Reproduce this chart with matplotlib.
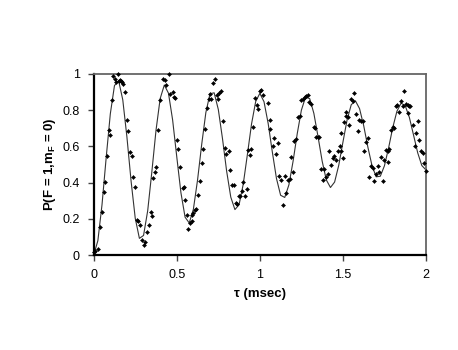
import matplotlib
matplotlib.use("Agg")
import matplotlib.pyplot as plt

plt.rcParams['font.family'] = ['Liberation Sans', 'DejaVu Sans']
plt.rcParams['mathtext.default'] = 'regular'

# Measured data points (tau in ms, population)
tau_data = [0.002, 0.010, 0.028, 0.038, 0.048, 0.060, 0.066, 0.078, 0.090, 0.098,
            0.108, 0.118, 0.126, 0.135, 0.146, 0.150, 0.158, 0.165, 0.172, 0.178,
            0.188, 0.200, 0.208, 0.220, 0.228, 0.238, 0.248, 0.260, 0.268, 0.278,
            0.288, 0.300, 0.310, 0.319, 0.331, 0.343, 0.351, 0.359, 0.369, 0.377,
            0.389, 0.399, 0.419, 0.429, 0.437, 0.451, 0.461, 0.475, 0.483, 0.489,
            0.499, 0.509, 0.521, 0.535, 0.541, 0.551, 0.561, 0.569, 0.579, 0.589,
            0.589, 0.599, 0.609, 0.617, 0.627, 0.637, 0.649, 0.659, 0.669, 0.679,
            0.693, 0.699, 0.707, 0.717, 0.729, 0.741, 0.749, 0.757, 0.765, 0.780,
            0.790, 0.798, 0.812, 0.820, 0.834, 0.842, 0.854, 0.860, 0.874, 0.882,
            0.892, 0.896, 0.908, 0.920, 0.930, 0.940, 0.948, 0.958, 0.970, 0.980,
            0.990, 0.998, 1.008, 1.018, 1.050, 1.064, 1.064, 1.080, 1.088, 1.098,
            1.108, 1.118, 1.130, 1.138, 1.150, 1.158, 1.170, 1.180, 1.188, 1.198,
            1.208, 1.216, 1.229, 1.239, 1.249, 1.261, 1.269, 1.279, 1.289, 1.297,
            1.309, 1.323, 1.331, 1.341, 1.349, 1.357, 1.369, 1.379, 1.389, 1.399,
            1.409, 1.419, 1.429, 1.439, 1.449, 1.459, 1.469, 1.481, 1.491, 1.499,
            1.489, 1.509, 1.519, 1.521, 1.529, 1.539, 1.549, 1.559, 1.569, 1.579,
            1.589, 1.599, 1.609, 1.621, 1.629, 1.639, 1.649, 1.659, 1.669, 1.679,
            1.690, 1.701, 1.710, 1.719, 1.730, 1.740, 1.750, 1.760, 1.770, 1.780,
            1.772, 1.790, 1.800, 1.810, 1.820, 1.828, 1.840, 1.850, 1.860, 1.870,
            1.880, 1.890, 1.900, 1.906, 1.894, 1.920, 1.934, 1.940, 1.954, 1.960,
            1.970, 1.980, 1.990, 2.000]
p_data = [0.017, 0.020, 0.033, 0.153, 0.236, 0.348, 0.405, 0.545, 0.691, 0.663,
          0.856, 0.991, 0.970, 0.955, 1.000, 0.960, 0.965, 0.960, 0.955, 0.945,
          0.902, 0.748, 0.683, 0.571, 0.549, 0.433, 0.377, 0.193, 0.186, 0.168,
          0.085, 0.054, 0.074, 0.125, 0.164, 0.238, 0.217, 0.425, 0.459, 0.486,
          0.691, 0.856, 0.974, 0.967, 0.941, 1.000, 0.890, 0.900, 0.875, 0.867,
          0.637, 0.584, 0.486, 0.370, 0.376, 0.304, 0.223, 0.145, 0.175, 0.223,
          0.186, 0.232, 0.246, 0.254, 0.333, 0.407, 0.508, 0.586, 0.698, 0.812,
          0.864, 0.890, 0.864, 0.948, 0.972, 0.886, 0.862, 0.893, 0.904, 0.742,
          0.591, 0.558, 0.576, 0.471, 0.385, 0.385, 0.287, 0.282, 0.324, 0.328,
          0.355, 0.402, 0.328, 0.366, 0.578, 0.551, 0.586, 0.705, 0.867, 0.827,
          0.805, 0.904, 0.912, 0.886, 0.842, 0.748, 0.698, 0.604, 0.646, 0.560,
          0.619, 0.435, 0.413, 0.278, 0.438, 0.343, 0.416, 0.420, 0.541, 0.459,
          0.632, 0.643, 0.761, 0.766, 0.858, 0.864, 0.871, 0.876, 0.886, 0.843,
          0.834, 0.705, 0.702, 0.652, 0.650, 0.650, 0.475, 0.413, 0.477, 0.433,
          0.446, 0.573, 0.499, 0.536, 0.545, 0.527, 0.573, 0.600, 0.573, 0.536,
          0.674, 0.735, 0.788, 0.766, 0.762, 0.716, 0.862, 0.849, 0.895, 0.781,
          0.683, 0.748, 0.739, 0.739, 0.573, 0.624, 0.646, 0.429, 0.490, 0.481,
          0.407, 0.448, 0.494, 0.459, 0.541, 0.410, 0.527, 0.582, 0.576, 0.584,
          0.514, 0.692, 0.705, 0.702, 0.821, 0.827, 0.788, 0.853, 0.825, 0.904,
          0.836, 0.830, 0.825, 0.825, 0.785, 0.720, 0.600, 0.674, 0.738, 0.637,
          0.573, 0.564, 0.508, 0.466]

# Fitted curve, every 0.025 ms
tau_fit = [i * 0.025 for i in range(81)]
p_fit = [0.000, 0.079, 0.278, 0.537, 0.780, 0.936, 0.963, 0.857, 0.651, 0.408,
         0.203, 0.092, 0.108, 0.245, 0.460, 0.689, 0.864, 0.939, 0.894, 0.746,
         0.542, 0.344, 0.209, 0.177, 0.253, 0.414, 0.611, 0.787, 0.891, 0.896,
         0.804, 0.644, 0.464, 0.320, 0.251, 0.278, 0.391, 0.555, 0.724, 0.848,
         0.893, 0.847, 0.727, 0.570, 0.423, 0.330, 0.318, 0.388, 0.518, 0.670,
         0.800, 0.872, 0.864, 0.783, 0.655, 0.519, 0.415, 0.373, 0.403, 0.496,
         0.623, 0.746, 0.830, 0.852, 0.809, 0.715, 0.597, 0.494, 0.432, 0.435,
         0.493, 0.592, 0.704, 0.794, 0.839, 0.825, 0.760, 0.663, 0.565, 0.494,
         0.470]

x_ticks = [0, 0.5, 1, 1.5, 2]
x_ticklabels = ['0', '0.5', '1', '1.5', '2']
y_ticks = [0, 0.2, 0.4, 0.6, 0.8, 1]
y_ticklabels = ['0', '0.2', '0.4', '0.6', '0.8', '1']

fig = plt.figure(figsize=(4.58, 3.5), dpi=100)
ax = fig.add_axes([0.2046, 0.2714, 0.7255, 0.5172])

ax.plot(tau_fit, p_fit, color='#333333', lw=0.8, zorder=2)
ax.plot(tau_data, p_data, linestyle='none', marker='D', ms=2.1,
        color='black', mec='black', mew=0.3, zorder=3, clip_on=False)

ax.set_xlim(0, 2)
ax.set_ylim(0, 1)
ax.set_xticks(x_ticks)
ax.set_xticklabels(x_ticklabels)
ax.set_yticks(y_ticks)
ax.set_yticklabels(y_ticklabels)
ax.tick_params(axis='both', direction='out', length=4, width=1,
               color='#444444', labelsize=9, pad=6)

for side in ['left', 'bottom']:
    ax.spines[side].set_linewidth(1.6)
    ax.spines[side].set_color('black')
for side in ['top', 'right']:
    ax.spines[side].set_linewidth(1.3)
    ax.spines[side].set_color('#666666')

ax.set_xlabel('τ (msec)', fontsize=9.5, fontweight='bold', labelpad=5)
ax.set_ylabel(r'P(F = 1,m$_F$ = 0)', fontsize=9.5, fontweight='bold', labelpad=3)

fig.savefig('out.png', dpi=100)
